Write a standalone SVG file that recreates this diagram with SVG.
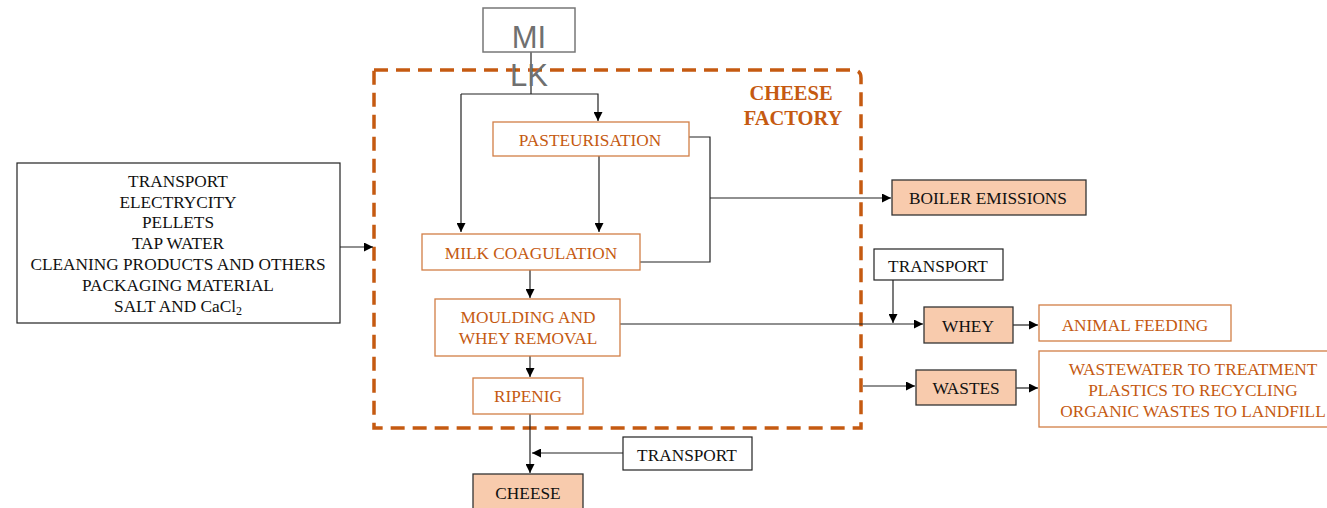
<svg xmlns="http://www.w3.org/2000/svg" width="1327" height="508" viewBox="0 0 1327 508">
<style>
.t{font-family:"Liberation Serif","Times New Roman",serif;font-size:17.3px;text-anchor:middle}
.o{fill:#C55A11}
.k{fill:#111}
.ob{fill:#fff;stroke:#D27E46;stroke-width:1.3}
.kb{fill:#fff;stroke:#222;stroke-width:1.2}
.pb{fill:#F8CBAD;stroke:#333;stroke-width:1.3}
.c{fill:none;stroke:#222;stroke-width:1.2}
</style>
<defs>
<marker id="ah" viewBox="0 0 10 10" refX="10" refY="5" markerWidth="9" markerHeight="9" markerUnits="userSpaceOnUse" orient="auto">
<path d="M0,0 L10,5 L0,10 z" fill="#000"/>
</marker>
</defs>
<rect width="1327" height="508" fill="#fff"/>
<g id="factory">
<path d="M374,70 H853 Q861,70 861,78 V428 H374 Z" fill="none" stroke="#C55A11" stroke-width="3.5" stroke-dasharray="14,8"/>
<text class="t o" x="791" y="100" style="font-size:20.5px;font-weight:bold">CHEESE</text>
<text class="t o" x="793" y="125" style="font-size:20.5px;font-weight:bold">FACTORY</text>
</g>
<g id="connectors">
<path class="c" d="M531,52 V94"/>
<path class="c" d="M461,94 H598 V121" marker-end="url(#ah)"/>
<path class="c" d="M461,94 V232" marker-end="url(#ah)"/>
<path class="c" d="M599,156 V232" marker-end="url(#ah)"/>
<path class="c" d="M689,137 H710 V262 H640"/>
<path class="c" d="M710,198 H891" marker-end="url(#ah)"/>
<path class="c" d="M530,270 V298" marker-end="url(#ah)"/>
<path class="c" d="M620,324 H923" marker-end="url(#ah)"/>
<path class="c" d="M893,280 V323" marker-end="url(#ah)"/>
<path class="c" d="M530,356 V377" marker-end="url(#ah)"/>
<path class="c" d="M530,414 V473" marker-end="url(#ah)"/>
<path class="c" d="M623,453 H532" marker-end="url(#ah)"/>
<path class="c" d="M340,247 H373" marker-end="url(#ah)"/>
<path class="c" d="M1013,325 H1038" marker-end="url(#ah)"/>
<path class="c" d="M863,386 H915" marker-end="url(#ah)"/>
<path class="c" d="M1016,388 H1038" marker-end="url(#ah)"/>
</g>
<g id="milk">
<rect x="483" y="8" width="92" height="44" fill="#fff" stroke="#777" stroke-width="1.5"/>
<text x="529" y="48" style="font-family:'Liberation Sans',Arial,sans-serif;font-size:31px;fill:#707070;text-anchor:middle">MI</text>
<text x="529" y="86" style="font-family:'Liberation Sans',Arial,sans-serif;font-size:31px;fill:#707070;text-anchor:middle">LK</text>
</g>
<g id="inputs">
<rect class="kb" x="17" y="163" width="323" height="160"/>
<text class="t k" x="178" y="187">TRANSPORT</text>
<text class="t k" x="178" y="208">ELECTRYCITY</text>
<text class="t k" x="178" y="228">PELLETS</text>
<text class="t k" x="178" y="249">TAP WATER</text>
<text class="t k" x="178" y="270">CLEANING PRODUCTS AND OTHERS</text>
<text class="t k" x="178" y="291">PACKAGING MATERIAL</text>
<text class="t k" x="178" y="312">SALT AND CaCl<tspan font-size="12" dy="3">2</tspan></text>
</g>
<g id="pasteurisation">
<rect class="ob" x="493" y="122" width="196" height="34"/>
<text class="t o" x="590" y="146">PASTEURISATION</text>
</g>
<g id="coagulation">
<rect class="ob" x="422" y="234" width="218" height="36"/>
<text class="t o" x="531" y="259">MILK COAGULATION</text>
</g>
<g id="moulding">
<rect class="ob" x="435" y="299" width="185" height="57"/>
<text class="t o" x="528" y="323">MOULDING AND</text>
<text class="t o" x="528" y="344">WHEY REMOVAL</text>
</g>
<g id="ripening">
<rect class="ob" x="473" y="378" width="110" height="36"/>
<text class="t o" x="528" y="402">RIPENIG</text>
</g>
<g id="cheese">
<rect class="pb" x="473" y="474" width="110" height="40"/>
<text class="t k" x="528" y="499">CHEESE</text>
</g>
<g id="transport-cheese">
<rect class="kb" x="623" y="437" width="129" height="33"/>
<text class="t k" x="687" y="461">TRANSPORT</text>
</g>
<g id="boiler">
<rect class="pb" x="892" y="180" width="194" height="35"/>
<text class="t k" x="988" y="204">BOILER EMISSIONS</text>
</g>
<g id="transport-whey">
<rect class="kb" x="874" y="249" width="129" height="31"/>
<text class="t k" x="938" y="272">TRANSPORT</text>
</g>
<g id="whey">
<rect class="pb" x="924" y="307" width="89" height="36"/>
<text class="t k" x="968" y="332">WHEY</text>
</g>
<g id="animal-feeding">
<rect class="ob" x="1039" y="305" width="192" height="36"/>
<text class="t o" x="1135" y="331">ANIMAL FEEDING</text>
</g>
<g id="wastes">
<rect class="pb" x="916" y="370" width="100" height="35"/>
<text class="t k" x="966" y="394">WASTES</text>
</g>
<g id="waste-destinations">
<rect class="ob" x="1039" y="351" width="292" height="76"/>
<text class="t o" x="1193" y="375">WASTEWATER TO TREATMENT</text>
<text class="t o" x="1193" y="396">PLASTICS TO RECYCLING</text>
<text class="t o" x="1193" y="417">ORGANIC WASTES TO LANDFILL</text>
</g>
</svg>
